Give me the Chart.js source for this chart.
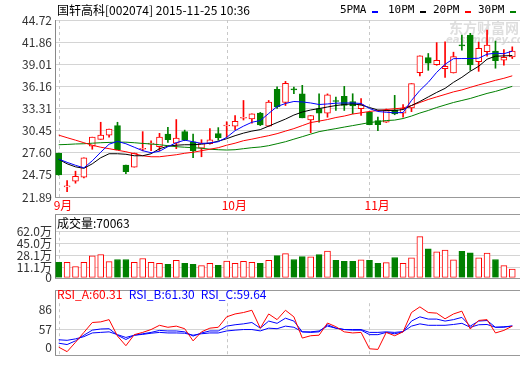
<!DOCTYPE html>
<html><head><meta charset="utf-8">
<script src="https://cdn.jsdelivr.net/npm/chart.js@4.4.0/dist/chart.umd.min.js"></script>
<style>
html,body{margin:0;padding:0;background:#fff;}
#wrap{position:relative;width:520px;height:365px;overflow:hidden;background:#fff;}
canvas{position:absolute;left:0;}
</style></head><body>
<div id="wrap">
<canvas id="cMain" width="520" height="215" style="top:0px"></canvas>
<canvas id="cVol" width="520" height="88" style="top:200px"></canvas>
<canvas id="cRsi" width="520" height="85" style="top:280px"></canvas>
</div>
<script>
// ---------------- DATA ----------------
const dates = ['09-01','09-02','09-07','09-08','09-09','09-10','09-11','09-14','09-15','09-16','09-17','09-18','09-21','09-22','09-23','09-24','09-25','09-28','09-29','09-30',
 '10-08','10-09','10-12','10-13','10-14','10-15','10-16','10-19','10-20','10-21','10-22','10-23','10-26','10-27','10-28','10-29','10-30',
 '11-02','11-03','11-04','11-05','11-06','11-09','11-10','11-11','11-12','11-13','11-16','11-17','11-18','11-19','11-20','11-23','11-24','11-25'];
const opens  = [27.51,23.20,23.93,24.45,28.44,29.32,29.87,31.10,26.00,25.74,28.05,28.72,28.38,30.02,28.83,30.32,29.02,28.18,28.76,30.06,
 31.05,31.03,32.05,31.97,32.72,31.01,35.77,34.08,35.77,35.21,31.84,33.30,32.70,34.34,34.86,34.21,33.27,
 32.82,31.75,31.53,33.14,32.70,33.37,37.94,39.86,38.97,38.45,37.88,41.48,42.74,39.34,40.63,40.70,39.53,39.96];
const highs  = [27.55,24.00,25.22,26.95,29.61,31.53,30.65,31.53,26.00,27.56,30.32,29.15,30.10,30.88,31.88,30.52,30.00,29.28,30.71,30.84,
 31.60,32.40,34.34,32.62,32.80,34.34,36.09,36.80,36.07,36.29,32.40,35.20,35.19,34.77,36.16,35.21,34.60,
 32.90,32.20,33.24,35.00,33.82,36.51,40.09,40.40,41.80,41.90,40.57,42.77,43.00,41.87,43.42,42.00,40.89,41.26];
const lows   = [24.70,22.58,23.67,24.35,28.05,29.32,29.61,28.00,24.91,25.74,27.85,27.86,27.86,28.93,28.12,29.15,26.95,27.08,28.70,29.22,
 29.58,30.58,31.82,31.40,31.10,31.00,33.31,33.69,35.21,32.10,30.19,31.53,32.18,33.05,33.05,32.62,32.40,
 31.20,30.45,31.50,32.50,32.20,32.90,37.50,38.23,38.88,37.30,37.88,40.83,38.23,38.10,40.05,38.50,38.88,39.75];
const closes = [24.74,23.28,24.57,26.95,29.61,29.89,30.65,28.00,25.17,27.56,28.12,28.80,29.61,29.28,29.48,29.24,27.86,28.86,29.28,29.54,
 31.15,31.66,32.12,32.62,31.19,34.12,33.50,36.55,35.70,32.10,32.40,32.70,35.06,34.21,33.69,33.65,33.82,
 31.23,31.23,33.05,32.62,33.30,36.51,40.09,39.14,39.53,38.75,39.99,41.39,38.92,41.05,41.48,39.49,39.92,40.70];
const ma5  = [26.78,26.36,25.98,25.65,26.56,27.66,28.70,29.06,28.76,28.31,27.86,27.60,27.79,28.38,28.89,29.22,29.02,28.80,28.86,29.02,
 29.58,30.45,31.03,31.53,31.75,32.66,33.56,33.95,34.21,34.15,34.02,33.82,33.89,33.99,34.02,34.02,33.95,
 33.30,32.92,32.82,32.75,32.79,34.34,35.64,36.68,37.97,39.01,39.73,39.75,39.75,39.79,40.31,40.44,40.37,40.70];
const ma10 = [26.75,26.17,25.78,25.59,26.17,26.95,27.47,27.47,27.40,27.21,27.21,27.47,28.12,28.44,28.57,28.63,28.63,28.70,28.83,29.09,
 29.41,29.80,30.13,30.39,30.58,31.03,31.49,31.94,32.46,32.85,33.11,33.30,33.50,33.69,33.82,33.91,33.76,
 33.43,33.11,33.05,33.05,33.17,33.69,34.21,34.80,35.38,35.90,36.68,37.33,38.10,38.75,39.66,40.05,40.09,40.14];
const ma20 = [29.87,29.54,29.22,28.89,28.57,28.31,28.12,27.92,27.73,27.47,27.21,27.08,27.08,27.21,27.34,27.53,27.66,27.86,28.05,28.25,
 28.57,28.83,29.15,29.35,29.58,29.80,30.06,30.39,30.71,31.10,31.49,31.68,31.88,32.14,32.33,32.59,32.75,
 32.92,33.05,33.17,33.27,33.37,33.69,34.08,34.47,34.80,35.12,35.45,35.70,36.03,36.35,36.64,36.94,37.20,37.52];
const ma30 = [28.63,28.67,28.73,28.76,28.83,28.89,28.93,28.96,28.96,28.89,28.80,28.73,28.63,28.51,28.38,28.31,28.25,28.18,28.05,27.99,
 27.95,27.99,28.12,28.25,28.34,28.51,28.76,29.02,29.35,29.67,30.00,30.32,30.52,30.71,30.91,31.10,31.29,
 31.49,31.62,31.75,31.81,32.01,32.33,32.72,33.05,33.43,33.76,34.08,34.34,34.60,34.93,35.25,35.51,35.83,36.16];
const volumes = [18.4,18.4,12.5,18.4,27.6,29.4,19.4,22.5,22.5,18.4,23.9,18.4,17.0,15.6,21.1,17.0,15.6,13.8,17.0,14.3,
 20.2,17.0,19.8,18.4,17.0,21.1,28.0,30.8,22.5,26.6,26.2,29.4,34.5,21.1,19.8,19.8,22.1,
 21.1,17.0,18.0,25.3,17.0,24.9,55.1,37.6,33.5,35.9,22.1,33.9,32.1,24.9,31.7,22.5,13.8,8.8];
const rsiA = [31.2,24.6,38.3,52.8,67.3,68.2,71.5,47.4,33.3,49.5,52.8,57.0,63.2,60.3,62.0,58.2,40.4,53.6,59.0,60.3,
 75.6,79.8,81.9,85.2,59.0,79.8,71.5,85.2,75.6,44.5,47.9,48.7,66.5,61.1,53.6,52.0,52.8,
 28.8,27.9,52.8,47.9,53.6,81.9,90.2,81.9,81.0,72.7,79.8,83.9,57.8,70.3,71.5,52.0,55.7,62.0];
const rsiB = [37.0,35.0,40.4,48.7,56.1,57.8,58.2,48.7,42.4,48.7,50.8,52.8,55.7,54.9,54.9,53.6,47.4,52.0,54.9,54.9,
 62.0,64.0,65.3,67.3,59.0,69.4,66.1,73.6,69.4,53.6,52.8,53.6,64.0,59.0,57.0,56.1,56.1,
 49.5,49.5,52.8,50.8,53.6,69.4,75.6,72.3,72.3,69.4,71.5,74.8,62.0,69.4,70.2,60.3,60.3,62.3];
const rsiC = [42.0,41.2,43.3,46.6,52.0,52.8,53.6,49.5,45.4,48.7,49.9,51.6,52.8,52.0,52.0,51.6,48.7,50.8,52.0,52.0,
 54.9,56.1,57.0,57.0,55.0,59.0,58.2,62.0,60.3,53.6,53.6,54.9,62.0,59.0,57.0,57.0,57.0,
 52.8,52.8,53.6,52.8,54.0,62.0,65.3,63.2,63.2,63.2,64.4,66.1,60.3,64.0,64.4,60.3,61.1,62.0];
const priceTickLabels = ['21.89','24.75','27.60','30.45','33.31','36.16','39.01','41.86','44.72'];
const volTickLabels = ['0','11.1万','28.1万','45.0万','62.0万'];
const volTickValues = [-3.6, 11.1, 28.1, 45.0, 62.0];
const rsiTickLabels = ['0','57','86'];
const rsiTickValues = [30.3, 57, 86];
const monthLabels = ['9月','10月','11月'];
const titleText = '国轩高科[002074] 2015-11-25 10:36';
const volTitle = '成交量:70063';
const rsiTitles = ['RSI_A:60.31','RSI_B:61.30','RSI_C:59.64'];
const legendLabels = ['5PMA','10PM','20PM','30PM'];
const watermark = ['东方财富网','eastmoney.com'];

// ---------------- STYLE / LAYOUT ----------------
const UP = '#ff0000', DOWN = '#008000';
const MA_COLORS = ['#0000ff','#000000','#ff0000','#008000'];
const RSI_COLORS = ['#ff0000','#0000ff','#0000ff'];
const FONT = '"Noto Sans CJK SC","DejaVu Sans",sans-serif';
const MONO = '"DejaVu Sans Mono","Liberation Mono",monospace';
const X_MIN = -0.44, X_MAX = 54.92;
const PRICE_MIN = 21.89, PRICE_MAX = 44.72;
const VOL_MIN = -3.6, VOL_MAX = 87.2;
const RSI_MIN = 20.0, RSI_MAX = 114.6;
const GRID = '#d4d4d4', FRAME = '#999999', DASH = '#c8c8c8';

const idx = dates.map((d, i) => i);
const isUp = idx.map(i => closes[i] >= opens[i]);
const monthStarts = idx.filter(i => i === 0 || dates[i].slice(0,2) !== dates[i-1].slice(0,2));

function xScale() {
  return { type: 'linear', min: X_MIN, max: X_MAX, display: false, offset: false, grid: { display: false } };
}
function yScale(min, max, values, labels, gridFn) {
  return {
    type: 'linear', position: 'left', min: min, max: max,
    afterFit(s) { s.width = 55; },
    afterBuildTicks(s) { s.ticks = values.map(v => ({ value: v })); },
    ticks: { autoSkip: false, padding: 3, color: '#333', font: { family: FONT, size: 12 },
      callback: (v, i) => labels[i] },
    grid: { drawTicks: false, color: gridFn },
    border: { display: true, color: '#888888' }
  };
}
function monthLines(chart, yTop) {
  const { ctx, chartArea, scales } = chart;
  ctx.save();
  ctx.strokeStyle = DASH; ctx.lineWidth = 1; ctx.setLineDash([3, 3]);
  monthStarts.forEach(i => {
    const x = Math.round(scales.x.getPixelForValue(i)) + 0.5;
    ctx.beginPath(); ctx.moveTo(x, yTop); ctx.lineTo(x, chartArea.bottom); ctx.stroke();
  });
  ctx.restore();
}
function hline(ctx, x1, x2, y, color) {
  ctx.save(); ctx.strokeStyle = color; ctx.lineWidth = 1;
  ctx.beginPath(); ctx.moveTo(x1, Math.round(y) + 0.5); ctx.lineTo(x2, Math.round(y) + 0.5); ctx.stroke();
  ctx.restore();
}
function text(ctx, s, x, y, color, font, align) {
  ctx.save(); ctx.fillStyle = color; ctx.font = font; ctx.textBaseline = 'middle';
  ctx.textAlign = align || 'left'; ctx.fillText(s, x, y); ctx.restore();
}
const common = { responsive: false, animation: false, devicePixelRatio: 1,
  plugins: { legend: { display: false }, tooltip: { enabled: false } } };

// ---------------- MAIN CANDLE CHART ----------------
const maSets = [ma5, ma10, ma20, ma30].map((arr, k) => ({
  type: 'line', data: idx.map(i => ({ x: i, y: arr[i] })), borderColor: MA_COLORS[k],
  borderWidth: 1, pointRadius: 0, tension: 0, fill: false, order: 1
}));
new Chart(document.getElementById('cMain'), {
  type: 'bar',
  data: { datasets: [
    { data: idx.map(i => ({ x: i, y: [lows[i], highs[i]] })), grouped: false, barThickness: 1,
      backgroundColor: idx.map(i => isUp[i] ? UP : DOWN), borderWidth: 0, order: 3 },
    { data: idx.map(i => ({ x: i, y: [opens[i], closes[i]] })), grouped: false, barThickness: 6,
      minBarLength: 1, borderSkipped: false, borderWidth: 1,
      backgroundColor: idx.map(i => isUp[i] ? '#ffffff' : DOWN),
      borderColor: idx.map(i => isUp[i] ? UP : DOWN), order: 2 },
    ...maSets
  ] },
  options: Object.assign({}, common, {
    layout: { padding: { top: 20, bottom: 18, left: 0, right: 0 } },
    scales: { x: xScale(), y: yScale(PRICE_MIN, PRICE_MAX, priceTickLabels.map(parseFloat), priceTickLabels, () => GRID) }
  }),
  plugins: [{
    id: 'mainDeco',
    beforeDatasetsDraw(chart) {
      const { ctx, chartArea } = chart;
      monthLines(chart, chartArea.top);
      hline(ctx, chartArea.left, chartArea.right, chartArea.bottom, FRAME);
      text(ctx, watermark[0], 449, 28, 'rgba(200,200,200,0.6)', 'bold 14px ' + FONT);
      text(ctx, watermark[1], 446, 40, 'rgba(200,200,200,0.6)', 'italic bold 10px "DejaVu Sans"');
    },
    afterDraw(chart) {
      const { ctx, scales } = chart;
      text(ctx, titleText, 57, 10, '#000', '12px ' + FONT);
      const lx = [340, 388, 433, 478], mx = [372, 420, 465, 510];
      legendLabels.forEach((l, k) => {
        text(ctx, l, lx[k], 10.5, '#000', '11px ' + MONO);
        ctx.fillStyle = MA_COLORS[k]; ctx.fillRect(mx[k], 11, 6, 2);
      });
      monthStarts.forEach((i, k) => {
        const x = scales.x.getPixelForValue(i);
        text(ctx, monthLabels[k], x - 5, 205, '#ff0000', '12px ' + FONT);
      });
    }
  }]
});

// ---------------- VOLUME ----------------
new Chart(document.getElementById('cVol'), {
  type: 'bar',
  data: { datasets: [{
    data: idx.map(i => ({ x: i, y: volumes[i] })), base: VOL_MIN, grouped: false, barThickness: 6,
    borderSkipped: false, borderWidth: 1,
    backgroundColor: idx.map(i => isUp[i] ? '#ffffff' : DOWN),
    borderColor: idx.map(i => isUp[i] ? UP : DOWN)
  }] },
  options: Object.assign({}, common, {
    layout: { padding: { top: 14, bottom: 8, left: 0, right: 0 } },
    scales: { x: xScale(), y: yScale(VOL_MIN, VOL_MAX, volTickValues, volTickLabels,
      c => c.index === 0 ? 'rgba(0,0,0,0)' : GRID) }
  }),
  plugins: [{
    id: 'volDeco',
    beforeDatasetsDraw(chart) {
      const { ctx, chartArea, scales } = chart;
      monthLines(chart, scales.y.getPixelForValue(62.0));
      hline(ctx, chartArea.left, chartArea.right, chartArea.top, FRAME);
      hline(ctx, chartArea.left, chartArea.right, chartArea.bottom, FRAME);
    },
    afterDraw(chart) {
      text(chart.ctx, volTitle, 57, 23, '#000', '12px ' + FONT);
    }
  }]
});

// ---------------- RSI ----------------
new Chart(document.getElementById('cRsi'), {
  type: 'line',
  data: { datasets: [rsiA, rsiB, rsiC].map((arr, k) => ({
    data: idx.map(i => ({ x: i, y: arr[i] })), borderColor: RSI_COLORS[k], borderWidth: 1,
    pointRadius: 0, tension: 0, fill: false
  })) },
  options: Object.assign({}, common, {
    layout: { padding: { top: 7, bottom: 2, left: 0, right: 0 } },
    scales: { x: xScale(), y: yScale(RSI_MIN, RSI_MAX, rsiTickValues, rsiTickLabels,
      c => c.index === 1 ? GRID : 'rgba(0,0,0,0)') }
  }),
  plugins: [{
    id: 'rsiDeco',
    beforeDatasetsDraw(chart) {
      const { ctx, chartArea } = chart;
      monthLines(chart, chartArea.top + 13);
      hline(ctx, chartArea.left, chartArea.right, chartArea.top, FRAME);
      hline(ctx, chartArea.left, chartArea.right, chartArea.bottom, FRAME);
    },
    afterDraw(chart) {
      const tx = [57, 128.7, 200.7];
      rsiTitles.forEach((t, k) => text(chart.ctx, t, tx[k], 14, RSI_COLORS[k], '12px ' + FONT));
    }
  }]
});
</script>
</body></html>
